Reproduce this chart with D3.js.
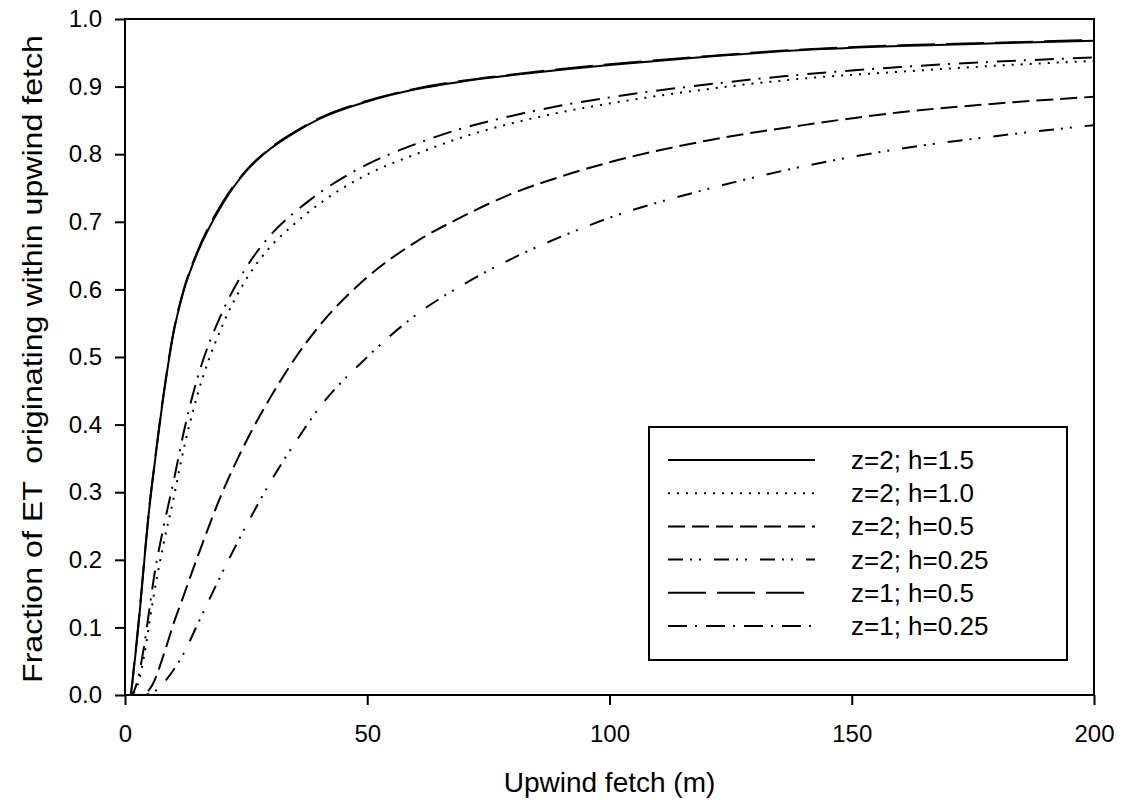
<!doctype html>
<html lang="en">
  <head>
    <meta charset="utf-8">
    <script src="https://cdn.jsdelivr.net/npm/d3@7/dist/d3.min.js"></script>
    <style>
      body {margin:0; background:#fff; font-family: "Liberation Sans", Arial, sans-serif}
      svg {display:block}
      .tick text {font-size:24px; fill:#000}
      .tick line {stroke:#000; stroke-width:2px}
    </style>
    <title>Fraction of ET vs upwind fetch</title>
  </head>
  <body>
    <script>
      // fetch distance (m), shared by all six curves
      const fetchX = [0, 1, 2, 3, 4, 5, 6, 8, 10, 12, 15, 20, 25, 30, 35, 40, 50, 60, 70, 80, 90, 100, 120, 140, 160, 180, 200];

      // fraction of ET
      const z2h15  = [0, 0, 0.05, 0.12, 0.20, 0.275, 0.335, 0.445, 0.535, 0.595, 0.655, 0.725, 0.775, 0.808, 0.832, 0.852, 0.878, 0.896, 0.908, 0.917, 0.925, 0.932, 0.944, 0.954, 0.960, 0.964, 0.968];
      const z2h10  = [0, 0, 0.005, 0.025, 0.06, 0.105, 0.15, 0.225, 0.29, 0.36, 0.445, 0.545, 0.615, 0.663, 0.697, 0.726, 0.770, 0.800, 0.826, 0.846, 0.862, 0.875, 0.896, 0.912, 0.922, 0.931, 0.938];
      const z2h05  = [0, 0, 0, 0, 0.003, 0.008, 0.02, 0.06, 0.105, 0.145, 0.205, 0.298, 0.375, 0.44, 0.497, 0.545, 0.618, 0.670, 0.709, 0.742, 0.767, 0.788, 0.82, 0.843, 0.862, 0.875, 0.885];
      const z2h025 = [0, 0, 0, 0, 0, 0.002, 0.005, 0.018, 0.037, 0.06, 0.105, 0.18, 0.25, 0.315, 0.372, 0.424, 0.5, 0.562, 0.608, 0.646, 0.678, 0.706, 0.748, 0.782, 0.808, 0.827, 0.843];
      const z1h05  = [0, 0, 0.052, 0.122, 0.202, 0.277, 0.337, 0.447, 0.537, 0.597, 0.657, 0.727, 0.776, 0.809, 0.833, 0.853, 0.879, 0.897, 0.909, 0.918, 0.926, 0.933, 0.945, 0.955, 0.961, 0.965, 0.969];
      const z1h025 = [0, 0, 0.008, 0.035, 0.075, 0.125, 0.175, 0.25, 0.315, 0.385, 0.47, 0.565, 0.632, 0.68, 0.714, 0.742, 0.785, 0.815, 0.839, 0.857, 0.872, 0.884, 0.903, 0.918, 0.929, 0.937, 0.943];

      const seriesNames = ["z=2; h=1.5", "z=2; h=1.0", "z=2; h=0.5", "z=2; h=0.25", "z=1; h=0.5", "z=1; h=0.25"];
      const seriesValues = [z2h15, z2h10, z2h05, z2h025, z1h05, z1h025];
      const dashes = ["none", "2,7", "17,7", "15,7,2,7,2,13", "38,11", "19,8,2,9"];
      const drawOrder = [4, 5, 1, 3, 2, 0];

      const xTicks = [0, 50, 100, 150, 200];
      const yTicks = [0, 0.1, 0.2, 0.3, 0.4, 0.5, 0.6, 0.7, 0.8, 0.9, 1.0];

      let margin = {top:19, left:125, right:28, bottom:110};
      let w = 1122 - margin.left - margin.right;
      let h = 805 - margin.top - margin.bottom;

      let xScale = d3.scaleLinear().domain([0, 200]).range([0, w]);
      let yScale = d3.scaleLinear().domain([0, 1]).range([h, 0]);

      let svg = d3.select("body").append("svg")
        .attr("width", 1122)
        .attr("height", 805);

      let canvas = svg.append("g")
        .attr("transform", "translate(" + margin.left + "," + margin.top + ")");

      // axes
      let xAxis = d3.axisBottom(xScale).tickValues(xTicks).tickSize(10).tickPadding(20).tickFormat(d3.format("d"));
      let yAxis = d3.axisLeft(yScale).tickValues(yTicks).tickSize(10).tickPadding(13).tickFormat(d3.format(".1f"));

      canvas.append("g")
        .attr("transform", "translate(0," + h + ")")
        .call(xAxis)
        .call(g => g.select(".domain").remove());

      canvas.append("g")
        .call(yAxis)
        .call(g => g.select(".domain").remove());

      // plot frame
      canvas.append("rect")
        .attr("width", w)
        .attr("height", h)
        .attr("fill", "none")
        .attr("stroke", "#000")
        .attr("stroke-width", 2);

      // curves
      let line = d3.line()
        .x((d, i) => xScale(fetchX[i]))
        .y(d => yScale(d))
        .curve(d3.curveMonotoneX);

      drawOrder.forEach(k => {
        canvas.append("path")
          .datum(seriesValues[k])
          .attr("d", line)
          .attr("fill", "none")
          .attr("stroke", "#000")
          .attr("stroke-width", 2)
          .attr("stroke-dasharray", dashes[k]);
      });

      // axis titles
      svg.append("text")
        .attr("x", margin.left + w / 2)
        .attr("y", 792)
        .attr("text-anchor", "middle")
        .attr("font-size", "28px")
        .text("Upwind fetch (m)");

      svg.append("text")
        .attr("transform", "translate(42," + (margin.top + h / 2 + 2) + ") rotate(-90)")
        .attr("text-anchor", "middle")
        .attr("font-size", "28px")
        .attr("textLength", 648)
        .attr("lengthAdjust", "spacingAndGlyphs")
        .attr("xml:space", "preserve")
        .text("Fraction of ET  originating within upwind fetch");

      // legend
      let legend = svg.append("g").attr("transform", "translate(649,427)");

      legend.append("rect")
        .attr("width", 418)
        .attr("height", 233)
        .attr("fill", "#fff")
        .attr("stroke", "#000")
        .attr("stroke-width", 2);

      seriesNames.forEach((name, i) => {
        let row = 33 + i * 33.2;
        legend.append("line")
          .attr("x1", 19).attr("x2", 166)
          .attr("y1", row).attr("y2", row)
          .attr("stroke", "#000")
          .attr("stroke-width", 2)
          .attr("stroke-dasharray", dashes[i]);
        legend.append("text")
          .attr("x", 202)
          .attr("y", row + 9)
          .attr("font-size", "26px")
          .text(name);
      });
    </script>
  </body>
</html>
